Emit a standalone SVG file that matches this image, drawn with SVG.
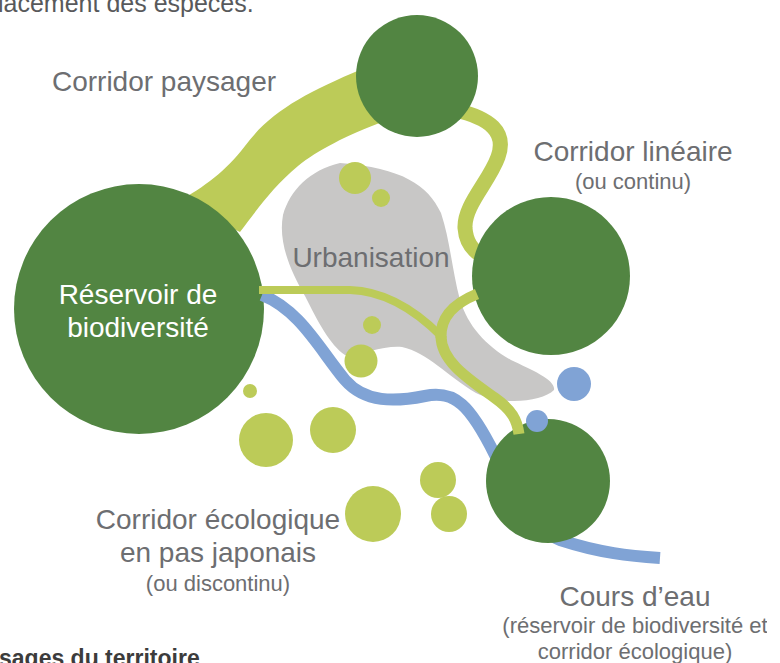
<svg xmlns="http://www.w3.org/2000/svg" width="780" height="663" viewBox="0 0 780 663">
<defs>
<style>
.lbl{font-family:"Liberation Sans",Arial,sans-serif;fill:#6d6e71;text-anchor:middle}
.big{font-size:28px}
.sm{font-size:22px}
.res{fill:#528542}
.lg{fill:#bccb58}
.bl{fill:#80a3d5}
.corr{fill:none;stroke:#bccb58}
</style>
<clipPath id="clipL"><rect x="12" y="0" width="768" height="663"/></clipPath>
<clipPath id="clipR"><rect x="0" y="0" width="767" height="663"/></clipPath>
</defs>
<rect width="780" height="663" fill="#ffffff"/>

<text x="-2" y="12" style="font-family:'Liberation Sans',Arial,sans-serif;font-size:25px;fill:#58595b">lacement des espèces.</text>

<g id="corridor-paysager">
<path class="lg" d="M178,202 C205,186 225,172 245,146 C270,112 305,93 362,69 L385,121 C345,136 318,150 298,166 C272,188 260,206 240,232 Z"/>
</g>
<g id="corridor-lineaire">
<path class="corr" stroke-width="15" d="M455,110 C490,118 507,132 498,157 C489,182 464,205 465,228 C466,242 472,250 482,256"/>
</g>
<g id="urbanisation">
<path fill="#c8c7c6" d="M340,163 C310,170 290,190 283,215 C278,242 290,270 305,296 C318,322 330,345 345,355 C362,355 385,345 402,347 C427,352 447,376 476,393 C502,406 542,402 554,390 C556,380 532,370 511,360 C486,346 468,326 460,300 C452,270 450,240 441,213 C428,185 402,168 340,163 Z"/>
</g>
<g id="reservoir">
<circle class="res" cx="139" cy="309" r="125" clip-path="url(#clipL)"/>
</g>
<g id="cours-eau">
<path fill="none" stroke="#80a3d5" stroke-width="12" d="M262,295 C300,310 320,350 345,380 C365,403 395,402 425,396 C455,390 470,405 495,455 C510,490 525,525 560,540 C600,553 630,556 660,558"/>
</g>
<g id="pas-japonais">
<circle class="lg" cx="355" cy="178" r="16"/>
<circle class="lg" cx="381" cy="198" r="9"/>
<circle class="lg" cx="372" cy="325" r="9"/>
<circle class="lg" cx="361" cy="361" r="16.5"/>
<circle class="lg" cx="250" cy="391" r="7"/>
<circle class="lg" cx="266" cy="440" r="27"/>
<circle class="lg" cx="333" cy="430" r="23"/>
<circle class="lg" cx="373" cy="514" r="28"/>
<circle class="lg" cx="438" cy="480" r="18"/>
<circle class="lg" cx="449" cy="514" r="18"/>
</g>
<g id="reservoir-haut"><circle class="res" cx="417" cy="76" r="61"/></g>
<g id="reservoir-droite"><circle class="res" cx="551" cy="276" r="79"/></g>
<g id="reservoir-bas"><circle class="res" cx="548" cy="481" r="62"/></g>
<g id="connectors">
<path class="corr" stroke-width="8" d="M259,290 L350,290 C385,291 415,310 441,336"/>
<path class="corr" stroke-width="11" d="M441,338 C440,316 455,303 477,294"/>
<path class="corr" stroke-width="11" d="M441,336 C441,362 470,380 495,398 C512,410 517,420 519,434"/>
</g>
<g id="points-eau">
<circle class="bl" cx="574" cy="384" r="17"/>
<circle class="bl" cx="537" cy="421" r="11"/>
</g>

<g id="labels">
<text class="lbl big" x="164" y="91">Corridor paysager</text>
<text class="lbl big" x="633" y="161">Corridor linéaire</text>
<text class="lbl sm" x="633" y="189">(ou continu)</text>
<text class="lbl big" x="371" y="267">Urbanisation</text>
<text class="lbl big" x="138" y="304" style="fill:#ffffff">Réservoir de</text>
<text class="lbl big" x="138" y="337" style="fill:#ffffff">biodiversité</text>
<text class="lbl big" x="218" y="529">Corridor écologique</text>
<text class="lbl big" x="218" y="562">en pas japonais</text>
<text class="lbl sm" x="218" y="591">(ou discontinu)</text>
<text class="lbl big" x="635" y="606">Cours d’eau</text>
<text class="lbl sm" x="635" y="633" clip-path="url(#clipR)">(réservoir de biodiversité et</text>
<text class="lbl sm" x="635" y="659">corridor écologique)</text>
</g>
<text x="-1" y="666" style="font-family:'Liberation Sans',Arial,sans-serif;font-size:23px;font-weight:bold;fill:#3c3c3c">sages du territoire</text>
</svg>
